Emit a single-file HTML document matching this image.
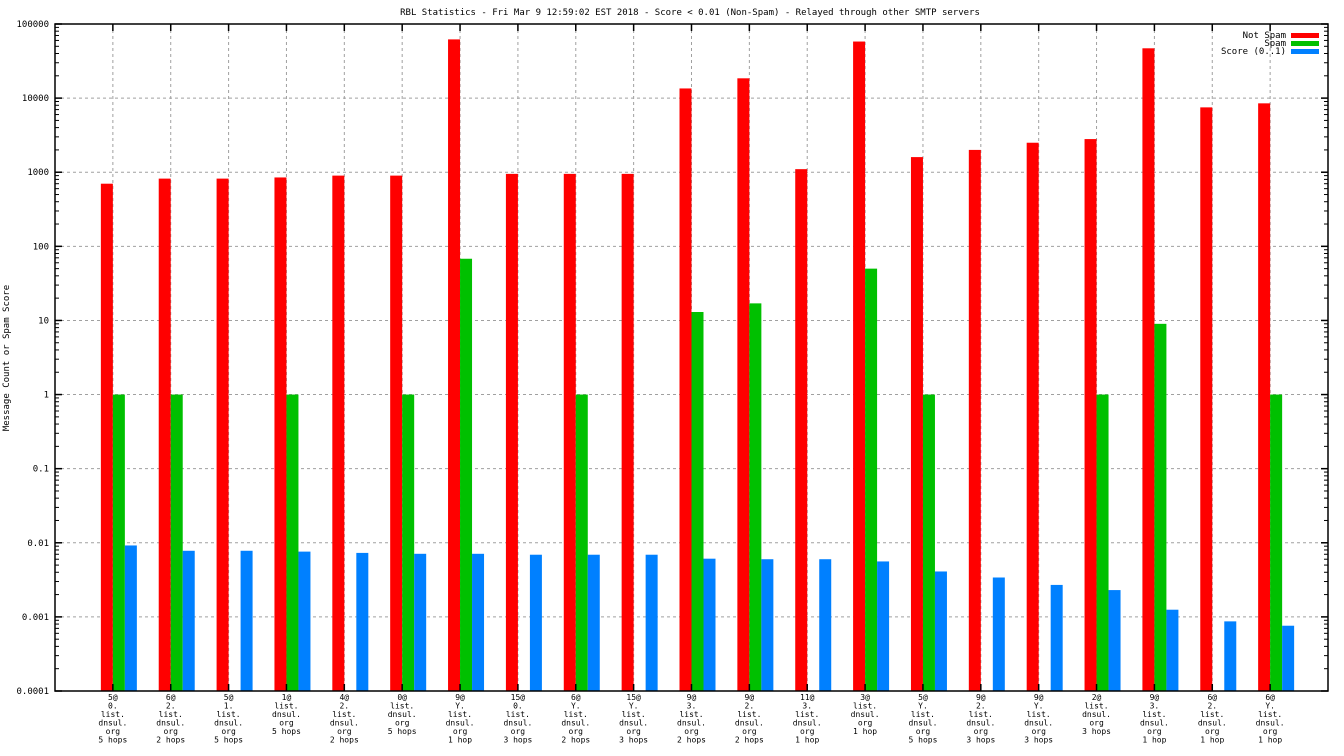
<!DOCTYPE html>
<html><head><meta charset="utf-8"><style>
body{margin:0;background:#fff;}
svg{display:block;font-family:"DejaVu Sans Mono","Liberation Mono",monospace;}
</style></head><body>
<svg id="chart" width="1344" height="756" viewBox="0 0 1344 756">
<text x="690" y="15" font-size="9" text-anchor="middle">RBL Statistics - Fri Mar  9 12:59:02 EST 2018 - Score &lt; 0.01 (Non-Spam) - Relayed through other SMTP servers</text>
<text transform="translate(9,358) rotate(-90)" font-size="9" text-anchor="middle">Message Count or Spam Score</text>
<g id="grid"></g><g id="bars"></g><g id="axes"></g><g id="labels"></g>
<g>
<text x="1286" y="38" font-size="9" text-anchor="end">Not Spam</text>
<rect x="1291" y="33" width="28" height="5" fill="#ff0000"/>
<text x="1286" y="46" font-size="9" text-anchor="end">Spam</text>
<rect x="1291" y="41" width="28" height="5" fill="#00c000"/>
<text x="1286" y="54" font-size="9" text-anchor="end">Score (0..1)</text>
<rect x="1291" y="49" width="28" height="5" fill="#0080ff"/>
</g>
</svg>
<script>
const categories = [
 ["5@","0.","list.","dnsul.","org","5 hops"],["6@","2.","list.","dnsul.","org","2 hops"],["5@","1.","list.","dnsul.","org","5 hops"],
 ["1@","list.","dnsul.","org","5 hops"],["4@","2.","list.","dnsul.","org","2 hops"],["0@","list.","dnsul.","org","5 hops"],
 ["9@","Y.","list.","dnsul.","org","1 hop"],["15@","0.","list.","dnsul.","org","3 hops"],["6@","Y.","list.","dnsul.","org","2 hops"],
 ["15@","Y.","list.","dnsul.","org","3 hops"],["9@","3.","list.","dnsul.","org","2 hops"],["9@","2.","list.","dnsul.","org","2 hops"],
 ["11@","3.","list.","dnsul.","org","1 hop"],["3@","list.","dnsul.","org","1 hop"],["5@","Y.","list.","dnsul.","org","5 hops"],
 ["9@","2.","list.","dnsul.","org","3 hops"],["9@","Y.","list.","dnsul.","org","3 hops"],["2@","list.","dnsul.","org","3 hops"],
 ["9@","3.","list.","dnsul.","org","1 hop"],["6@","2.","list.","dnsul.","org","1 hop"],["6@","Y.","list.","dnsul.","org","1 hop"]];
const notSpam = [700,820,820,850,900,900,62000,950,950,950,13500,18500,1100,58000,1600,2000,2500,2800,47000,7500,8500];
const spam = [1,1,0,1,0,1,68,0,1,0,13,17,0,50,1,0,0,1,9,0,1];
const score = [0.0092,0.0078,0.0078,0.0076,0.0073,0.0071,0.0071,0.0069,0.0069,0.0069,0.0061,0.006,0.006,0.0056,0.0041,0.0034,0.0027,0.0023,0.00125,0.00087,0.00076];
const yTicks = ["0.0001","0.001","0.01","0.1","1","10","100","1000","10000","100000"];

const NS="http://www.w3.org/2000/svg";
const L=55,R=1328,T=24,B=691;
const y=v=>B-(Math.log10(v)+4)*(B-T)/9;
const x=i=>L+(i+1)*(R-L)/22;
function mk(tag,attrs,parent){const e=document.createElementNS(NS,tag);for(const k in attrs)e.setAttribute(k,attrs[k]);document.getElementById(parent).appendChild(e);return e;}
yTicks.forEach((t,k)=>{const yy=y(parseFloat(t));
 if(k>0&&k<yTicks.length-1){const g=mk('line',{x1:L,x2:R,y1:yy,y2:yy,stroke:'#a0a0a0','stroke-dasharray':'3,3'},'grid');
 
 }
 mk('line',{x1:L,x2:L+7,y1:yy,y2:yy,stroke:'#000','stroke-width':1.5},'axes');
 mk('line',{x1:R,x2:R-7,y1:yy,y2:yy,stroke:'#000','stroke-width':1.5},'axes');
 for(let m=2;m<10&&k<yTicks.length-1;m++){const ym=y(parseFloat(t)*m);
  mk('line',{x1:L,x2:L+4,y1:ym,y2:ym,stroke:'#000'},'axes');mk('line',{x1:R,x2:R-4,y1:ym,y2:ym,stroke:'#000'},'axes');}
 const tx=mk('text',{x:49,y:yy+3,'font-size':9,'text-anchor':'end'},'labels');tx.textContent=t;
 
 
});
categories.forEach((c,i)=>{const cx=x(i);
 const g=mk('line',{x1:cx,x2:cx,y1:T,y2:B,stroke:'#a0a0a0','stroke-dasharray':'3,3'},'grid');
 
 
 mk('line',{x1:cx,x2:cx,y1:T,y2:T+7,stroke:'#000','stroke-width':1.5},'axes');
 mk('line',{x1:cx,x2:cx,y1:B,y2:B-7,stroke:'#000','stroke-width':1.5},'axes');
 const tx=mk('text',{x:cx,y:B+9,'font-size':8,'text-anchor':'middle'},'labels');
 
 
 c.forEach((ln,j)=>{const s=document.createElementNS(NS,'tspan');s.setAttribute('x',cx);s.setAttribute('dy',j?8.5:0);s.textContent=ln;tx.appendChild(s);});
 [[notSpam,'#ff0000',-12,'bar-not-spam'],[spam,'#00c000',0,'bar-spam'],[score,'#0080ff',12,'bar-score']].forEach(([arr,col,off,nm])=>{
  const v=arr[i];if(!v)return;const yy=y(v);
  const r=mk('rect',{x:cx+off,y:yy,width:12,height:B-yy,fill:col},'bars');
  
  
 });
});
const fr=mk('rect',{x:L,y:T,width:R-L,height:B-T,fill:'none',stroke:'#000','stroke-width':1.5},'axes');


</script>
</body></html>
